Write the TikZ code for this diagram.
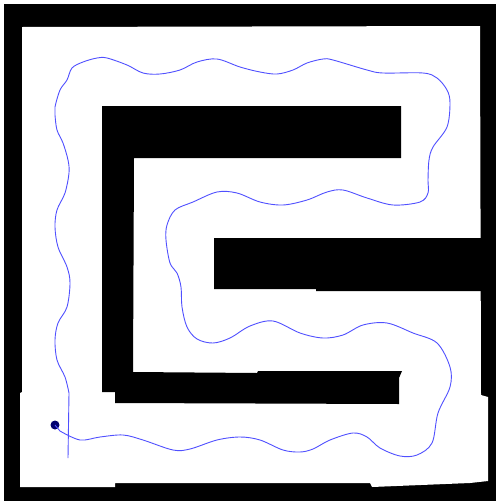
\documentclass[tikz,border=0pt]{standalone}
\usepackage{tikz}
\usetikzlibrary{positioning}
\definecolor{routeblue}{RGB}{80,80,255}
\definecolor{navy}{RGB}{0,0,110}

\begin{document}
\begin{tikzpicture}[x=1pt, y=-1pt,
    wall/.style={fill=black},
    free/.style={fill=white},
    route/.style={draw=routeblue, line width=0.9pt},
    robot/.style={circle, fill=navy, inner sep=0pt, minimum size=9pt}]
    \useasboundingbox (0,0) rectangle (496,501);
    \fill[white] (0,0) rectangle (496,501);
    % outer walls and free space
    \fill[wall] (4,4) rectangle (496,501);
    \fill[free] (22,27) -- (480,26) -- (481,395) -- (488,397) -- (488,481) -- (470,483)
        -- (372,487) -- (370,483) -- (115,483) -- (115,487) -- (20,487) -- (20,393)
        -- (22,392) -- cycle;
    % obstacles
    \fill[wall] (102,106) -- (401,106) -- (401,158) -- (134,158) -- (133,372) -- (257,373)
        -- (258,371) -- (402,371) -- (399,378) -- (399,404) -- (115,403) -- (115,392)
        -- (102,392) -- cycle;
    \fill[wall] (214,238) -- (316,238) -- (481,238) -- (481,291) -- (316,291) -- (316,289)
        -- (214,289) -- cycle;

    \node[robot] (start) at (55,425) {};
    \coordinate (finish) at (68,458);

    \draw[route] (start) -- plot[smooth, tension=0.55] coordinates {
        (60,431) (80,440) (100,437) (123,435) (143,440) (173,450) (190,449) (217,440)
        (240,437) (260,440) (283,450) (300,452) (313,449) (330,440) (353,433) (367,437)
        (380,448) (400,456) (417,455) (432,443) (438,413) (450,387) (450,367) (437,343)
        (413,333) (387,323) (363,325) (343,335) (323,338) (300,333) (273,321) (250,326)
        (230,338) (213,343) (197,339) (187,327) (182,307) (181,287) (177,273) (170,263)
        (166,240) (167,225) (175,210) (193,202) (217,192) (237,193) (260,202) (283,205)
        (307,200) (327,192) (343,190) (367,198) (393,205) (420,202) (428,193) (428,180)
        (429,160) (433,147) (447,127) (450,103) (447,90) (437,78) (423,73) (383,73)
        (367,70) (333,60) (323,59) (307,63) (293,70) (277,74) (260,72) (240,67)
        (217,59) (197,62) (180,70) (160,74) (143,73) (127,65) (107,58) (97,58)
        (83,62) (72,68) (67,80) (60,90) (55,107) (55,115) (57,130) (63,143)
        (68,160) (69,173) (65,193) (57,210) (55,227) (58,247) (67,267) (70,283)
        (67,307) (58,323) (55,340) (57,360) (65,377) (69,393)} -- (finish);
\end{tikzpicture}
\end{document}
